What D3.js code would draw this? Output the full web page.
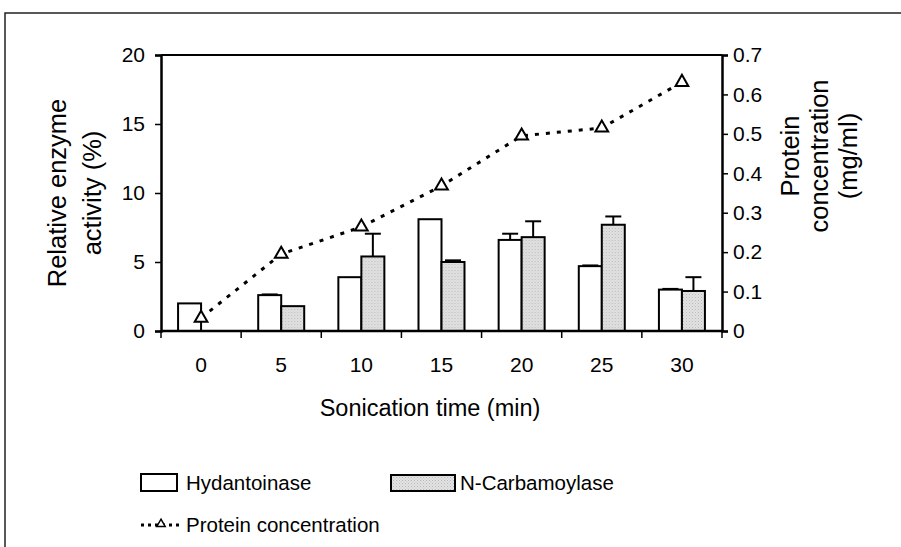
<!DOCTYPE html>
<html>
<head>
<meta charset="utf-8">
<script src="https://cdnjs.cloudflare.com/ajax/libs/d3/7.8.5/d3.min.js"></script>
<style>
  body { margin: 0; background: #fff; }
  svg { display: block; font-family: "Liberation Sans", Arial, sans-serif; }
</style>
</head>
<body>
<div class="graphContainer"></div>
<script>
// data
var categories = ["0", "5", "10", "15", "20", "25", "30"];
var hydantoinase = [2.0, 2.6, 3.9, 8.1, 6.6, 4.7, 3.0];
var hydantoinaseErr = [0, 0.05, 0, 0, 0.45, 0.05, 0.05];
var carbamoylase = [0, 1.8, 5.4, 5.0, 6.8, 7.7, 2.9];
var carbamoylaseErr = [0, 0, 1.65, 0.12, 1.15, 0.6, 1.0];
var protein = [0.033, 0.195, 0.264, 0.368, 0.495, 0.515, 0.631];
var leftTicks = [0, 5, 10, 15, 20];
var rightTicks = [0, 0.1, 0.2, 0.3, 0.4, 0.5, 0.6, 0.7];

var width = 901;
var height = 547;
var plot = { left: 161, right: 722, top: 55, bottom: 331 };

var svg = d3
  .select(".graphContainer")
  .append("svg")
  .attr("width", width)
  .attr("height", height);

// pattern for the grey bars
var defs = svg.append("defs");
var pat = defs
  .append("pattern")
  .attr("id", "dots")
  .attr("width", 3)
  .attr("height", 3)
  .attr("patternUnits", "userSpaceOnUse");
pat.append("rect").attr("width", 3).attr("height", 3).attr("fill", "#e2e2e2");
pat.append("rect").attr("width", 1).attr("height", 1).attr("fill", "#b8b8b8");
pat.append("rect").attr("x", 1.5).attr("y", 1.5).attr("width", 1).attr("height", 1).attr("fill", "#c8c8c8");

// outer frame
svg
  .append("rect")
  .attr("x", 5)
  .attr("y", 13)
  .attr("width", 920)
  .attr("height", 560)
  .attr("fill", "none")
  .attr("stroke", "#222")
  .attr("stroke-width", 1.5);

var xScale = d3
  .scaleBand()
  .domain(categories)
  .range([plot.left, plot.right])
  .padding(0);

var xSub = d3.scaleBand().domain(["h", "c"]).range([0, 46]);
var offset = (xScale.bandwidth() - 46) / 2;

var yLeft = d3.scaleLinear().domain([0, 20]).range([plot.bottom, plot.top]);
var yRight = d3.scaleLinear().domain([0, 0.7]).range([plot.bottom, plot.top]);

// plot area top line
svg
  .append("line")
  .attr("x1", plot.left)
  .attr("x2", plot.right)
  .attr("y1", plot.top)
  .attr("y2", plot.top)
  .attr("stroke", "#000")
  .attr("stroke-width", 2);

// bars
var groups = categories.map(function (c, i) {
  return {
    cat: c,
    bars: [
      { key: "h", v: hydantoinase[i], e: hydantoinaseErr[i] },
      { key: "c", v: carbamoylase[i], e: carbamoylaseErr[i] }
    ]
  };
});

var g = svg
  .selectAll("g.grp")
  .data(groups)
  .enter()
  .append("g")
  .attr("class", "grp")
  .attr("transform", (d) => "translate(" + (xScale(d.cat) + offset) + ",0)");

// error bars first (upper only)
g.selectAll("g.err")
  .data((d) => d.bars.filter((b) => b.e > 0))
  .enter()
  .append("g")
  .attr("class", "err")
  .each(function (b) {
    var cx = xSub(b.key) + xSub.bandwidth() / 2;
    var sel = d3.select(this);
    sel
      .append("line")
      .attr("x1", cx)
      .attr("x2", cx)
      .attr("y1", yLeft(b.v))
      .attr("y2", yLeft(b.v + b.e))
      .attr("stroke", "#000")
      .attr("stroke-width", 2);
    sel
      .append("line")
      .attr("x1", cx - 8)
      .attr("x2", cx + 8)
      .attr("y1", yLeft(b.v + b.e))
      .attr("y2", yLeft(b.v + b.e))
      .attr("stroke", "#000")
      .attr("stroke-width", 2);
  });

g.selectAll("rect")
  .data((d) => d.bars)
  .enter()
  .append("rect")
  .attr("x", (b) => xSub(b.key))
  .attr("y", (b) => yLeft(b.v))
  .attr("width", xSub.bandwidth())
  .attr("height", (b) => yLeft(0) - yLeft(b.v))
  .attr("fill", (b) => (b.key == "h" ? "#fff" : "url(#dots)"))
  .attr("stroke", "#000")
  .attr("stroke-width", 2);

// axes
var leftAxis = d3
  .axisLeft(yLeft)
  .tickValues(leftTicks)
  .tickSize(6)
  .tickPadding(10)
  .tickFormat(d3.format("d"));
var leftG = svg
  .append("g")
  .attr("transform", "translate(" + plot.left + ",0)")
  .call(leftAxis);

var rightAxis = d3
  .axisRight(yRight)
  .tickValues(rightTicks)
  .tickSize(6)
  .tickPadding(5)
  .tickFormat((d) => (d === 0 ? "0" : d3.format(".1f")(d)));
var rightG = svg
  .append("g")
  .attr("transform", "translate(" + plot.right + ",0)")
  .call(rightAxis);

// x axis: labels at centers, ticks at category boundaries
var xAxis = d3.axisBottom(xScale).tickSize(0).tickPadding(26);
var xG = svg
  .append("g")
  .attr("transform", "translate(0," + plot.bottom + ")")
  .call(xAxis);
xG.select(".domain").remove();

var bounds = categories.map((c) => xScale(c)).concat([plot.right]);
svg
  .selectAll("line.xtick")
  .data(bounds)
  .enter()
  .append("line")
  .attr("class", "xtick")
  .attr("x1", (d) => d)
  .attr("x2", (d) => d)
  .attr("y1", plot.bottom)
  .attr("y2", plot.bottom + 7)
  .attr("stroke", "#000")
  .attr("stroke-width", 1.5);

svg
  .append("line")
  .attr("x1", plot.left)
  .attr("x2", plot.right)
  .attr("y1", plot.bottom)
  .attr("y2", plot.bottom)
  .attr("stroke", "#000")
  .attr("stroke-width", 2.5);

[leftG, rightG, xG].forEach(function (a) {
  a.selectAll("text").style("font-size", "21px").attr("fill", "#000");
  a.attr("font-family", null).attr("font-size", null);
  a.selectAll(".tick line").attr("stroke", "#000").attr("stroke-width", 1.5);
  a.select(".domain").attr("stroke", "#000").attr("stroke-width", 2.5);
});

// protein line
var line = d3
  .line()
  .x((d, i) => xScale(categories[i]) + xScale.bandwidth() / 2)
  .y((d) => yRight(d));

svg
  .append("path")
  .datum(protein)
  .attr("d", line)
  .attr("fill", "none")
  .attr("stroke", "#000")
  .attr("stroke-width", 3)
  .attr("stroke-dasharray", "4,7");

var tri = d3.symbol().type(d3.symbolTriangle).size(70);
svg
  .selectAll("path.marker")
  .data(protein)
  .enter()
  .append("path")
  .attr("class", "marker")
  .attr("d", tri)
  .attr(
    "transform",
    (d, i) =>
      "translate(" + (xScale(categories[i]) + xScale.bandwidth() / 2) + "," + yRight(d) + ")"
  )
  .attr("fill", "#fff")
  .attr("stroke", "#000")
  .attr("stroke-width", 2);

// axis titles
var leftTitle = svg
  .append("text")
  .attr("transform", "translate(66,193) rotate(-90)")
  .attr("text-anchor", "middle")
  .style("font-size", "25.5px");
leftTitle.append("tspan").attr("x", 0).attr("dy", "0").text("Relative enzyme");
leftTitle.append("tspan").attr("x", 0).attr("dy", "1.37em").text("activity (%)");

var rightTitle = svg
  .append("text")
  .attr("transform", "translate(799,156) rotate(-90)")
  .attr("text-anchor", "middle")
  .style("font-size", "25.5px");
rightTitle.append("tspan").attr("x", 0).attr("dy", "0").text("Protein");
rightTitle.append("tspan").attr("x", 0).attr("dy", "1.13em").text("concentration");
rightTitle.append("tspan").attr("x", 0).attr("dy", "1.13em").text("(mg/ml)");

svg
  .append("text")
  .attr("x", 430)
  .attr("y", 416)
  .attr("text-anchor", "middle")
  .style("font-size", "23.5px")
  .text("Sonication time (min)");

// legend
var legend = svg.append("g").attr("id", "legend");
legend
  .append("rect")
  .attr("x", 141)
  .attr("y", 474)
  .attr("width", 36)
  .attr("height", 17)
  .attr("fill", "#fff")
  .attr("stroke", "#000")
  .attr("stroke-width", 2);
legend
  .append("text")
  .attr("x", 186)
  .attr("y", 490)
  .style("font-size", "20.5px")
  .text("Hydantoinase");
legend
  .append("rect")
  .attr("x", 391)
  .attr("y", 475)
  .attr("width", 64)
  .attr("height", 16)
  .attr("fill", "url(#dots)")
  .attr("stroke", "#000")
  .attr("stroke-width", 2);
legend
  .append("text")
  .attr("x", 460)
  .attr("y", 490)
  .style("font-size", "20.5px")
  .text("N-Carbamoylase");
legend
  .append("line")
  .attr("x1", 141)
  .attr("x2", 180)
  .attr("y1", 525)
  .attr("y2", 525)
  .attr("stroke", "#000")
  .attr("stroke-width", 3)
  .attr("stroke-dasharray", "3,4");
legend
  .append("path")
  .attr("d", d3.symbol().type(d3.symbolTriangle).size(30))
  .attr("transform", "translate(161,524)")
  .attr("fill", "#fff")
  .attr("stroke", "#000")
  .attr("stroke-width", 1.5);
legend
  .append("text")
  .attr("x", 186)
  .attr("y", 532)
  .style("font-size", "20.5px")
  .text("Protein concentration");
</script>
</body>
</html>
